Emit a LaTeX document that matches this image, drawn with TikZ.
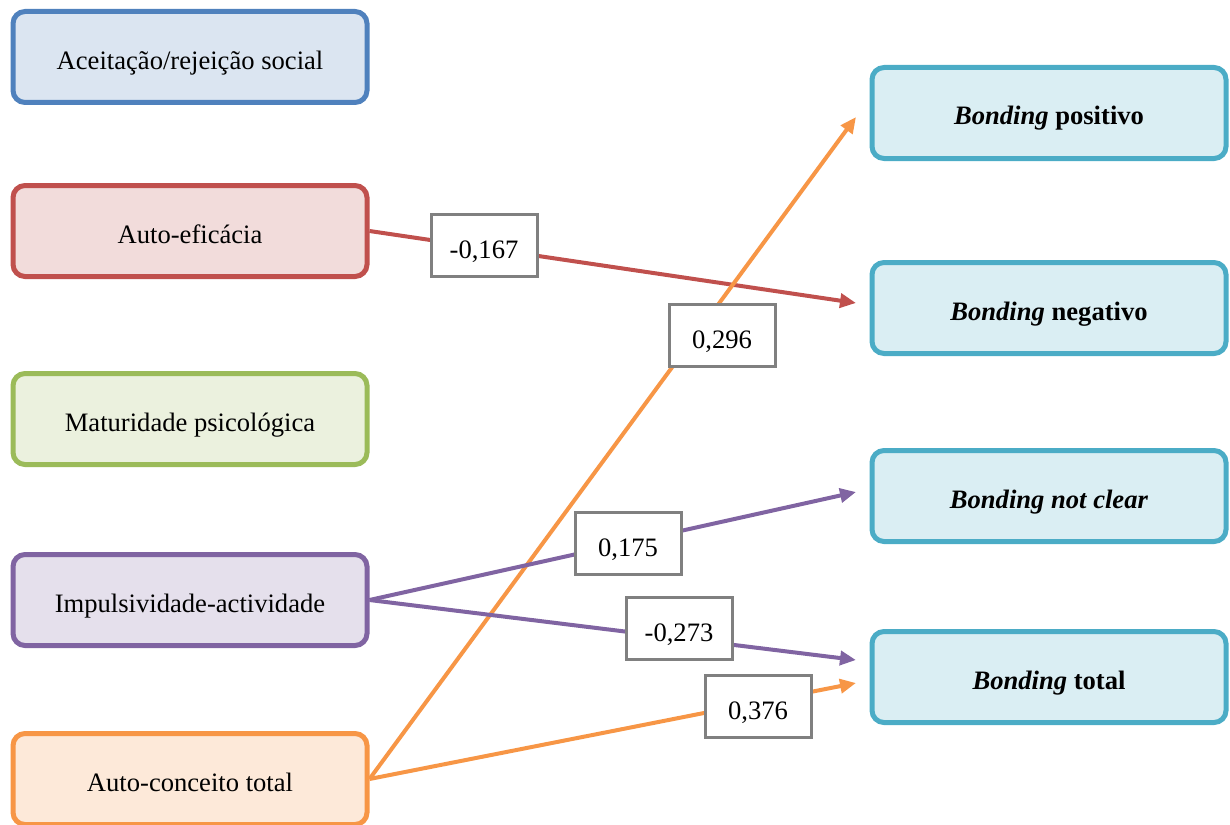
\documentclass[tikz,border=0pt]{standalone}
\usepackage{fontspec}
\setmainfont{Liberation Serif}
\usetikzlibrary{arrows.meta}
\definecolor{blueline}{HTML}{4F81BD}\definecolor{bluefill}{HTML}{DBE5F1}
\definecolor{redline}{HTML}{C0504D}\definecolor{redfill}{HTML}{F2DCDB}
\definecolor{greenline}{HTML}{9BBB59}\definecolor{greenfill}{HTML}{EBF1DE}
\definecolor{purpleline}{HTML}{8064A2}\definecolor{purplefill}{HTML}{E5E0EC}
\definecolor{orangeline}{HTML}{F79646}\definecolor{orangefill}{HTML}{FDE9D9}
\definecolor{tealline}{HTML}{4BACC6}\definecolor{tealfill}{HTML}{DAEEF3}
\definecolor{grayline}{HTML}{808080}
\begin{document}
\begin{tikzpicture}[x=0.5pt,y=-0.5pt,
        factor/.style={draw,rounded corners=6pt,line width=2.5pt,minimum width=177pt,minimum height=45.5pt,text height=12pt,text depth=0pt,font=\fontsize{13.3}{15}\selectfont},
        outcome/.style={factor,draw=tealline,fill=tealfill},
        coef/.style={draw=grayline,fill=white,line width=1.5pt,minimum width=53pt,minimum height=31pt,text height=13pt,text depth=0pt,font=\fontsize{13.3}{15}\selectfont},
        path/.style={line width=2pt,-{Triangle[length=8pt,width=7pt]}}]
        \useasboundingbox (0,0) rectangle (1230,824);
        \node[factor,draw=blueline,fill=bluefill] (social) at (190,57) {Aceitação/rejeição social};
        \node[factor,draw=redline,fill=redfill] (eficacia) at (190,231) {Auto-eficácia};
        \node[factor,draw=greenline,fill=greenfill] (maturidade) at (190,419) {Maturidade psicológica};
        \node[factor,draw=purpleline,fill=purplefill] (impuls) at (190,600) {Impulsividade-actividade};
        \node[factor,draw=orangeline,fill=orangefill] (conceito) at (190,779) {Auto-conceito total};
        \node[outcome] (positivo) at (1049,113) {\textbf{\textit{Bonding}} \textbf{positivo}};
        \node[outcome] (negativo) at (1049,308) {\textbf{\textit{Bonding}} \textbf{negativo}};
        \node[outcome] (notclear) at (1049,496) {\textbf{\textit{Bonding not clear}}};
        \node[outcome] (total) at (1049,677) {\textbf{\textit{Bonding}} \textbf{total}};
        \coordinate (tippos) at (856,117);
        \coordinate (tipneg) at (856,303);
        \coordinate (tipnot) at (856,492);
        \coordinate (tiptotA) at (856,660);
        \coordinate (tiptotB) at (856,683);
        \draw[path,redline] (eficacia.east) -- (tipneg);
        \draw[path,orangeline] (conceito.east) -- (tippos);
        \draw[path,purpleline] (impuls.east) -- (tipnot);
        \draw[path,purpleline] (impuls.east) -- (tiptotA);
        \draw[path,orangeline] (conceito.east) -- (tiptotB);
        \node[coef] (cefic) at (484,245) {-0,167};
        \node[coef] (cpos) at (722,335) {0,296};
        \node[coef] (cnot) at (628,543) {0,175};
        \node[coef] (ctotA) at (679,628) {-0,273};
        \node[coef] (ctotB) at (758,706) {0,376};
    \end{tikzpicture}
\end{document}
